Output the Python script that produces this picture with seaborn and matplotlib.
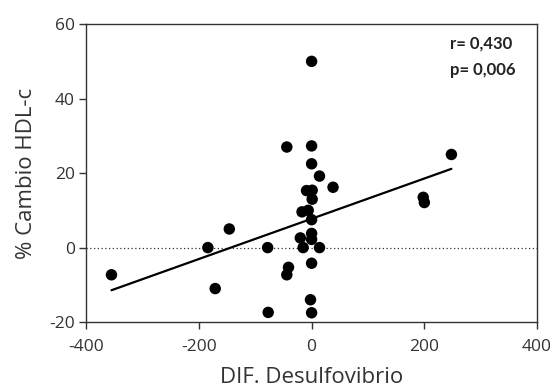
import numpy as np
import pandas as pd
import matplotlib
matplotlib.use("Agg")
import matplotlib.pyplot as plt
import seaborn as sns

# Change in Desulfovibrio vs. % change in HDL-c
dif_desulfovibrio = [-355, -184, -146, -171, -78, -77, -44, -41, -44,
                     0, 0, 0, 14, 38, -9, 1, 1, -17, -6, 0, 0, 0,
                     -20, -15, 14, 0, -2, 0, 198, 200, 248]
cambio_hdl = [-7.3, 0, 5, -11, 0, -17.4, 27, -5.3, -7.3,
              50, 27.3, 22.5, 19.2, 16.2, 15.3, 15.4, 13, 9.6, 10, 7.5, 3.8, 2.2,
              2.6, 0, 0, -4.2, -14, -17.5, 13.5, 12.1, 25]

x_ticks = [-400, -200, 0, 200, 400]
y_ticks = [-20, 0, 20, 40, 60]
r_text = "r= 0,430"
p_text = "p= 0,006"

df = pd.DataFrame({"x": dif_desulfovibrio, "y": cambio_hdl})

sns.set_theme(style="ticks")
plt.rcParams["font.family"] = ["Open Sans", "DejaVu Sans"]
plt.rcParams["axes.unicode_minus"] = False

fig = plt.figure(figsize=(5.52, 3.89), dpi=100)
ax = fig.add_axes([0.156, 0.172, 0.817, 0.766])

ax.axhline(0, color="#333333", linestyle=(0, (1, 2)), linewidth=0.9, zorder=1)

sns.regplot(data=df, x="x", y="y", ax=ax, ci=None,
            scatter_kws=dict(s=68, color="black", edgecolor="none", alpha=1, zorder=3),
            line_kws=dict(color="black", linewidth=1.6, zorder=2))

ax.set_xlim(-400, 400)
ax.set_ylim(-20, 60)
ax.set_xticks(x_ticks)
ax.set_yticks(y_ticks)
ax.tick_params(axis="both", direction="out", length=5, width=1.0,
               color="#333333", labelsize=12.5, labelcolor="#333333", pad=3)
ax.tick_params(axis="x", pad=7)
for sp in ax.spines.values():
    sp.set_color("#333333")
    sp.set_linewidth(1.0)

ax.set_xlabel("DIF. Desulfovibrio", fontsize=16, color="#333333", labelpad=9)
ax.set_ylabel("% Cambio HDL-c", fontsize=16, color="#333333", labelpad=9)

stats_font = dict(fontsize=12, fontweight="bold", color="#222222",
                  family=["Lato", "DejaVu Sans"])
ax.text(0.807, 0.936, r_text, transform=ax.transAxes, ha="left", va="center", **stats_font)
ax.text(0.807, 0.846, p_text, transform=ax.transAxes, ha="left", va="center", **stats_font)

fig.savefig("out.png", dpi=100)
